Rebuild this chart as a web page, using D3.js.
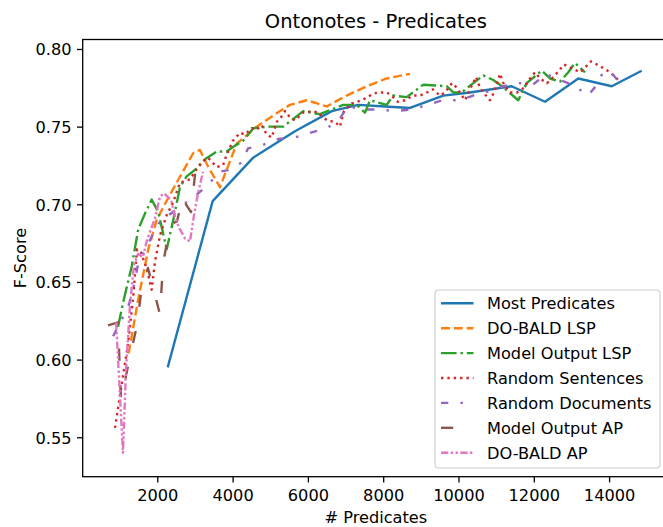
<!DOCTYPE html>
<html><head><meta charset="utf-8">
<script src="https://cdn.jsdelivr.net/npm/d3@7"></script>
<style>body{margin:0;background:#fff}svg{display:block;font-family:"DejaVu Sans",sans-serif}</style>
</head><body><svg id="c" width="663" height="527"></svg>
<script>
const title = "Ontonotes - Predicates";
const xLabel = "# Predicates";
const yLabel = "F-Score";
const xTicks = [2000, 4000, 6000, 8000, 10000, 12000, 14000];
const yTicks = [0.55, 0.60, 0.65, 0.70, 0.75, 0.80];
const seriesNames = ["Most Predicates","DO-BALD LSP","Model Output LSP","Random Sentences","Random Documents","Model Output AP","DO-BALD AP"];

const mostX = [2276, 3471, 4547, 5657, 6634, 7337, 8049, 8712, 9596, 10305, 11413, 12298, 13183, 14070, 14866];
const mostY = [0.595, 0.702, 0.730, 0.747, 0.760, 0.764, 0.763, 0.762, 0.770, 0.772, 0.776, 0.766, 0.781, 0.776, 0.786];

const doLspX = [1240, 1495, 1761, 1984, 2200, 2515, 2956, 3134, 3355, 3665, 4109, 4640, 5259, 5524, 5968, 6499, 7030, 7562, 8093, 8712];
const doLspY = [0.604, 0.639, 0.671, 0.690, 0.700, 0.714, 0.733, 0.735, 0.724, 0.711, 0.739, 0.750, 0.760, 0.764, 0.767, 0.763, 0.770, 0.776, 0.781, 0.784];

const moLspX = [956, 1095, 1320, 1495, 1673, 1851, 2027, 2250, 2425, 2603, 2781, 3046, 3267, 3578, 3843, 4019, 4284, 4550, 4993, 5347, 5878, 6321, 6940, 7296, 7516, 7649, 8093, 8268, 8624, 9065, 9686, 9862, 10085, 10393, 10659, 10924, 11102, 11588, 11811, 12210, 12430, 12696, 12916, 13094, 13360];
const moLspY = [0.621, 0.637, 0.660, 0.684, 0.694, 0.703, 0.695, 0.671, 0.690, 0.711, 0.718, 0.723, 0.729, 0.734, 0.734, 0.737, 0.741, 0.749, 0.750, 0.750, 0.760, 0.758, 0.764, 0.764, 0.759, 0.767, 0.764, 0.770, 0.769, 0.777, 0.776, 0.772, 0.772, 0.778, 0.783, 0.780, 0.777, 0.767, 0.778, 0.786, 0.781, 0.779, 0.785, 0.791, 0.785];

const randSentX = [877, 1036, 1222, 1355, 1461, 1567, 1726, 1851, 1939, 2072, 2250, 2417, 2603, 2868, 3001, 3179, 3347, 3578, 3745, 3843, 4011, 4197, 4329, 4507, 4640, 4773, 4906, 5038, 5171, 5286, 5392, 5524, 5657, 5870, 6135, 6268, 6507, 6720, 6852, 6959, 7171, 7437, 7650, 7836, 8101, 8260, 8393, 8579, 8791, 8977, 9163, 9322, 9508, 9641, 9827, 9960, 10093, 10172, 10305, 10465, 10571, 10730, 10836, 10943, 11102, 11208, 11368, 11554, 11740, 11899, 12032, 12165, 12351, 12563, 12802, 13068, 13227, 13360, 13519, 13758, 14024, 14290];
const randSentY = [0.556, 0.581, 0.610, 0.639, 0.671, 0.669, 0.658, 0.645, 0.663, 0.680, 0.693, 0.701, 0.714, 0.716, 0.721, 0.727, 0.730, 0.724, 0.725, 0.732, 0.741, 0.746, 0.745, 0.749, 0.748, 0.751, 0.745, 0.743, 0.753, 0.756, 0.760, 0.756, 0.754, 0.759, 0.760, 0.759, 0.754, 0.753, 0.750, 0.760, 0.765, 0.767, 0.770, 0.772, 0.772, 0.769, 0.766, 0.767, 0.770, 0.770, 0.772, 0.774, 0.770, 0.772, 0.778, 0.775, 0.770, 0.767, 0.774, 0.782, 0.775, 0.770, 0.767, 0.772, 0.784, 0.777, 0.772, 0.772, 0.775, 0.781, 0.785, 0.781, 0.778, 0.783, 0.790, 0.787, 0.785, 0.788, 0.792, 0.789, 0.785, 0.779];

const randDocX = [826, 1230, 1363, 1495, 1761, 2072, 2815, 3134, 3400, 3665, 3878, 4250, 4409, 4781, 5206, 5657, 6056, 6507, 6852, 7038, 7516, 7915, 8313, 8738, 9190, 9561, 10039, 10385, 10836, 11182, 11634, 11979, 12324, 12696, 13041, 13439, 13679, 13838, 14051, 14290];
const randDocY = [0.615, 0.634, 0.646, 0.662, 0.675, 0.689, 0.702, 0.708, 0.714, 0.721, 0.722, 0.727, 0.736, 0.738, 0.742, 0.743, 0.746, 0.749, 0.755, 0.763, 0.761, 0.761, 0.760, 0.761, 0.764, 0.767, 0.767, 0.770, 0.773, 0.776, 0.778, 0.777, 0.784, 0.780, 0.777, 0.770, 0.777, 0.785, 0.785, 0.778];

const moApX = [693, 956, 1036, 1275, 1461, 1594, 1753, 2072, 2151, 2337, 2523, 2683, 2762, 2895, 3001, 3214];
const moApY = [0.622, 0.624, 0.574, 0.602, 0.622, 0.648, 0.659, 0.629, 0.661, 0.687, 0.689, 0.705, 0.700, 0.695, 0.719, 0.717];

const doApX = [906, 1089, 1169, 1275, 1381, 1488, 1620, 1726, 1939, 2072, 2178, 2364, 2470, 2576, 2735, 2868, 2975, 3081, 3214];
const doApY = [0.624, 0.540, 0.593, 0.635, 0.661, 0.668, 0.666, 0.677, 0.691, 0.705, 0.707, 0.703, 0.692, 0.685, 0.678, 0.676, 0.693, 0.707, 0.721];

const colors = ["#1f77b4","#ff7f0e","#2ca02c","#d62728","#9467bd","#8c564b","#e377c2"];
const dashes = [null, "8.9,3.9", "15.6,3.9,2.4,3.9", "2.4,3.96", "7.3,12.2,2.4,12.2", "12.2,24.4", "7.3,2.4,2.4,2.4,2.4,2.4"];
const xsAll = [mostX, doLspX, moLspX, randSentX, randDocX, moApX, doApX];
const ysAll = [mostY, doLspY, moLspY, randSentY, randDocY, moApY, doApY];

const svg = d3.select("#c");
const L = 82.7, T = 39.5, B = 476.7, R = 669;
const x = d3.scaleLinear().domain([19, 15591]).range([L, R]);
const y = d3.scaleLinear().domain([0.5246, 0.8061]).range([B, T]);

svg.append("defs").append("clipPath").attr("id","clip")
  .append("rect").attr("x",L).attr("y",T).attr("width",R-L).attr("height",B-T);

const line = d3.line().x(d=>x(d[0])).y(d=>y(d[1]));
const g = svg.append("g").attr("clip-path","url(#clip)");
seriesNames.forEach((n,i)=>{
  const pts = xsAll[i].map((v,j)=>[v, ysAll[i][j]]);
  g.append("path").datum(pts).attr("d", line)
    .attr("fill","none").attr("stroke", colors[i]).attr("stroke-width",2.4)
    .attr("stroke-linejoin","round").attr("stroke-linecap","butt")
    .attr("stroke-dasharray", dashes[i]);
});

// axes
const fs = 16.2;
const xAxis = svg.append("g").attr("transform",`translate(0,${B})`)
  .call(d3.axisBottom(x).tickValues(xTicks).tickFormat(d3.format("d")).tickSize(5.7).tickPadding(5.5));
const yAxis = svg.append("g").attr("transform",`translate(${L},0)`)
  .call(d3.axisLeft(y).tickValues(yTicks).tickFormat(d3.format(".2f")).tickSize(5.7).tickPadding(5.5));
[xAxis,yAxis].forEach(a=>{
  a.select(".domain").remove();
  a.selectAll(".tick line").attr("stroke","#000").attr("stroke-width",1.3);
  a.selectAll(".tick text").attr("fill","#000").style("font-size",fs+"px").style("font-family","DejaVu Sans");
});
xAxis.selectAll(".tick text").attr("dy",null).attr("y",24.3);
yAxis.selectAll(".tick text").attr("dy","0.36em");

// spines
svg.append("rect").attr("x",L).attr("y",T).attr("width",R-L).attr("height",B-T)
  .attr("fill","none").attr("stroke","#000").attr("stroke-width",1.3);

svg.append("text").attr("x",(L+R)/2).attr("y",28).attr("text-anchor","middle")
  .style("font-size","19.5px").text(title);
svg.append("text").attr("x",(L+R)/2).attr("y",523).attr("text-anchor","middle")
  .style("font-size",fs+"px").text(xLabel);
svg.append("text").attr("transform",`translate(25.5,${(T+B)/2}) rotate(-90)`).attr("text-anchor","middle")
  .style("font-size",fs+"px").text(yLabel);

// legend
const lg = svg.append("g");
lg.append("rect").attr("x",435).attr("y",290).attr("width",225).attr("height",178).attr("rx",3.5)
  .attr("fill","#fff").attr("fill-opacity",0.8).attr("stroke","#cccccc").attr("stroke-width",1.1);
seriesNames.forEach((n,i)=>{
  const yy = 303.3 + i*24.9;
  lg.append("line").attr("x1",441).attr("x2",473.5).attr("y1",yy).attr("y2",yy)
    .attr("stroke",colors[i]).attr("stroke-width",2.4).attr("stroke-dasharray",dashes[i]);
  lg.append("text").attr("x",487).attr("y",yy+6).style("font-size",fs+"px").text(n);
});
</script></body></html>
